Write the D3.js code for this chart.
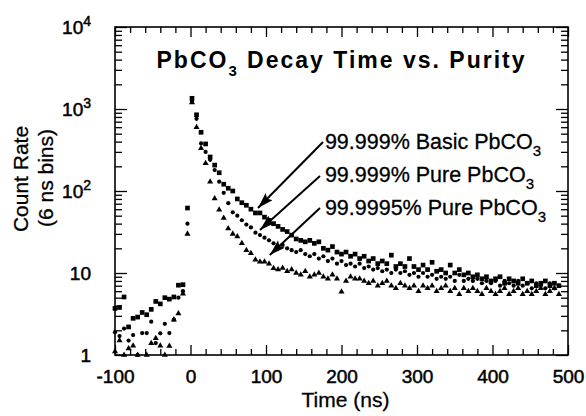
<!DOCTYPE html>
<html>
<head>
<meta charset="utf-8">
<script src="https://cdn.jsdelivr.net/npm/d3@7"></script>
<style>
  body { margin: 0; background: #fff; }
  svg { display: block; }
  text { font-family: "Liberation Sans", Arial, Helvetica, sans-serif; fill: #000; }
</style>
</head>
<body>
<div class="div_chart"></div>
<script>
// bins are 6 ns wide, first bin at -100 ns
const binStart = -100;
const binWidth = 6;

// counts per bin (0 = no point shown)
const basicPbCO3 = [
  3.7, 3.8, 5.1, 2.2, 2.8, 2.9, 3.3, 3.1, 3.6, 4.5, 4.2, 5.0, 4.8, 5.1, 7.1, 7.2, 62,
  1350, 850, 520, 375, 260, 207, 167, 121, 108, 100, 80, 72, 67, 60, 54, 54, 48,
  44, 40, 37, 34, 32, 29, 26, 25, 24, 25,
  23, 24, 20, 19, 21, 18, 17, 18, 16, 17,
  15, 16, 14, 15, 13, 14, 13, 16.5, 12, 13,
  12, 15, 12, 11, 12.5, 11, 13.5, 10.5, 11, 10,
  12.5, 10, 11, 9.5, 10, 9, 9.5, 8.5, 9, 8,
  8.5, 9, 7.5, 8.5, 8, 7.5, 8.5, 7.5, 8, 7,
  7.5, 8, 7, 7.5, 7
];
const purePbCO3 = [
  1.9, 1.7, 2.1, 1.5, 1.75, 1.0, 1.85, 1.85, 2.55, 1.4, 1.84, 2.4, 1.85, 2.7, 5.0, 6.0, 40,
  1250, 760, 380, 300, 240, 180, 130, 95, 71, 55, 50, 44, 39, 36, 31, 29, 27,
  25, 23, 21, 22, 20, 19, 18, 19, 17, 16,
  17, 15, 16, 14, 15, 13, 14, 12.5, 13, 12,
  13, 11.5, 12, 11, 11.5, 10.5, 11, 10, 11, 10,
  10.5, 9.5, 10, 9, 10, 9, 9.5, 8.5, 9, 8.5,
  9, 8, 9.5, 8, 8.5, 8, 8.5, 7.5, 8, 7.5,
  8, 7, 8, 7.5, 7, 8, 7, 7.5, 6.5, 7.5,
  7, 6.5, 7.5, 6.5, 7
];
const purestPbCO3 = [
  1.1, 1.5, 1.0, 1.2, 1.3, 1.0, 0, 1.0, 1.39, 1.6, 1.3, 1.0, 1.29, 2.7, 3.2, 5.6, 30,
  1200, 600, 332, 218, 130, 81, 59, 47, 35, 30, 27.8, 23, 19, 17.4, 14.5, 13.7, 13.7,
  13, 11.4, 11, 11.5, 10.5, 11, 10, 9.5, 10.5, 9,
  9.5, 10, 9, 8.5, 9.5, 8.5, 5.9, 8, 9, 8.5,
  8.5, 8, 7.5, 8, 7, 7.5, 8, 7, 6.5, 7.5,
  7, 6.5, 7, 6, 7, 6.5, 7, 6, 6.5, 7,
  6, 6.5, 5.5, 6.5, 6, 6.5, 6, 5.5, 6.5, 6,
  5.5, 6, 6.5, 5.5, 6, 6.5, 5.5, 6, 5.5, 6,
  6.5, 5.5, 6, 6.5, 5.5
];

const seriesLabels = ['99.999% Basic PbCO', '99.999% Pure PbCO', '99.9995% Pure PbCO'];
const xTicks = [-100, 0, 100, 200, 300, 400, 500];
const yTicks = [1, 10, 100, 1000, 10000];

const width = 586, height = 416;
const plot = {left: 115, right: 568, top: 27, bottom: 355};

const svg = d3.select('.div_chart')
  .append('svg')
    .attr('width', width)
    .attr('height', height);

const x = d3.scaleLinear().domain([-100, 500]).range([plot.left, plot.right]);
const y = d3.scaleLog().domain([1, 10000]).range([plot.bottom, plot.top]);

const times = d3.range(binStart, binStart + binWidth * basicPbCO3.length, binWidth);
const toPoints = vals => vals.map((v, i) => ({t: times[i], v})).filter(d => d.v >= 1);

// minor ticks
const xMinor = d3.range(-100, 501, 20).filter(d => !xTicks.includes(d));
const yMinor = [];
[1, 10, 100, 1000].forEach(dec => { for (let m = 2; m <= 9; m++) yMinor.push(dec * m); });

const noText = g => g.call(g => g.select('.domain').remove()).selectAll('text').remove();

svg.append('g').attr('transform', `translate(0,${plot.bottom})`)
  .call(d3.axisBottom(x).tickValues(xMinor).tickSize(-6)).call(noText);
svg.append('g').attr('transform', `translate(0,${plot.top})`)
  .call(d3.axisTop(x).tickValues(xMinor).tickSize(-6)).call(noText);
svg.append('g').attr('transform', `translate(0,${plot.top})`)
  .call(d3.axisTop(x).tickValues(xTicks).tickSize(-10)).call(noText);
svg.append('g').attr('transform', `translate(${plot.left},0)`)
  .call(d3.axisLeft(y).tickValues(yMinor).tickSize(-7)).call(noText);
svg.append('g').attr('transform', `translate(${plot.right},0)`)
  .call(d3.axisRight(y).tickValues(yMinor).tickSize(-7)).call(noText);
svg.append('g').attr('transform', `translate(${plot.right},0)`)
  .call(d3.axisRight(y).tickValues(yTicks).tickSize(-12)).call(noText);

const xAxis = svg.append('g')
  .attr('transform', `translate(0,${plot.bottom})`)
  .call(d3.axisBottom(x).tickValues(xTicks).tickSize(-10).tickPadding(15)
    .tickFormat(d => String(d)));
xAxis.select('.domain').remove();
xAxis.selectAll('text').attr('font-size', '19px');

const yAxis = svg.append('g')
  .attr('transform', `translate(${plot.left},0)`)
  .call(d3.axisLeft(y).tickValues(yTicks).tickSize(-12).tickPadding(24)
    .tickFormat(d => d < 100 ? String(d) : '10'));
yAxis.select('.domain').remove();
yAxis.selectAll('text').attr('font-size', '19px')
  .each(function(d) {
    if (d >= 100) {
      d3.select(this).append('tspan')
        .attr('dy', '-0.55em').attr('font-size', '14px')
        .text(Math.round(Math.log10(d)));
    }
  });

svg.selectAll('.tick line').attr('stroke', '#000').attr('stroke-width', 1.3);
svg.selectAll('.tick text').attr('fill', '#000').attr('font-family', '"Liberation Sans", Arial, sans-serif')
  .attr('stroke', '#000').attr('stroke-width', 0.5);

// frame
svg.append('rect')
  .attr('x', plot.left).attr('y', plot.top)
  .attr('width', plot.right - plot.left).attr('height', plot.bottom - plot.top)
  .attr('fill', 'none').attr('stroke', '#000').attr('stroke-width', 1.6);

// data
const series = [
  {data: basicPbCO3, sym: d3.symbolSquare, size: 22},
  {data: purePbCO3, sym: d3.symbolCircle, size: 14},
  {data: purestPbCO3, sym: d3.symbolTriangle, size: 16}
];
series.forEach(s => {
  svg.append('g').selectAll('path')
    .data(toPoints(s.data))
    .enter()
    .append('path')
    .attr('transform', d => `translate(${x(d.t)},${y(d.v)})`)
    .attr('d', d3.symbol().type(s.sym).size(s.size))
    .attr('fill', '#000');
});

// annotations: label anchor and arrow from/to, in data units
const annotations = [
  {label: seriesLabels[0], at: [178, 325], from: [175.5, 396], to: [89.4, 62]},
  {label: seriesLabels[1], at: [178, 129], from: [171.5, 152], to: [92, 33.5]},
  {label: seriesLabels[2], at: [178, 51], from: [171.5, 62], to: [105, 16.6]}
];

svg.append('defs').append('marker')
  .attr('id', 'head')
  .attr('markerUnits', 'userSpaceOnUse')
  .attr('markerWidth', 20).attr('markerHeight', 12)
  .attr('refX', 16).attr('refY', 5)
  .attr('orient', 'auto')
  .append('path')
  .attr('d', 'M0,0 L16,5 L0,10 L3,5 Z')
  .attr('fill', '#000');

annotations.forEach(a => {
  svg.append('line')
    .attr('x1', x(a.from[0])).attr('y1', y(a.from[1]))
    .attr('x2', x(a.to[0])).attr('y2', y(a.to[1]))
    .attr('stroke', '#000').attr('stroke-width', 2)
    .attr('marker-end', 'url(#head)');
  const t = svg.append('text')
    .attr('x', x(a.at[0])).attr('y', y(a.at[1]))
    .attr('font-size', '21.5px')
    .attr('stroke', '#000').attr('stroke-width', 0.3)
    .text(a.label);
  t.append('tspan').attr('dy', '0.45em').attr('font-size', '15px').text('3');
});

// title
const title = svg.append('text')
  .attr('x', (plot.left + plot.right) / 2)
  .attr('y', 68)
  .attr('text-anchor', 'middle')
  .attr('font-size', '23px')
  .attr('font-weight', 'bold')
  .attr('letter-spacing', '2px')
  .text('PbCO');
title.append('tspan').attr('dy', '0.5em').attr('font-size', '15px').text('3');
title.append('tspan').attr('dy', '-0.33em').text(' Decay Time vs. Purity');

// axis titles
svg.append('text')
  .attr('x', (plot.left + plot.right) / 2 + 4)
  .attr('y', 407)
  .attr('text-anchor', 'middle')
  .attr('font-size', '21px')
  .attr('stroke', '#000').attr('stroke-width', 0.3)
  .text('Time (ns)');

svg.append('text')
  .attr('transform', 'translate(28,179) rotate(-90)')
  .attr('text-anchor', 'middle')
  .attr('font-size', '21px')
  .attr('stroke', '#000').attr('stroke-width', 0.3)
  .text('Count Rate');
svg.append('text')
  .attr('transform', 'translate(53,178) rotate(-90)')
  .attr('text-anchor', 'middle')
  .attr('font-size', '21px')
  .attr('stroke', '#000').attr('stroke-width', 0.3)
  .text('(6 ns bins)');
</script>
</body>
</html>
